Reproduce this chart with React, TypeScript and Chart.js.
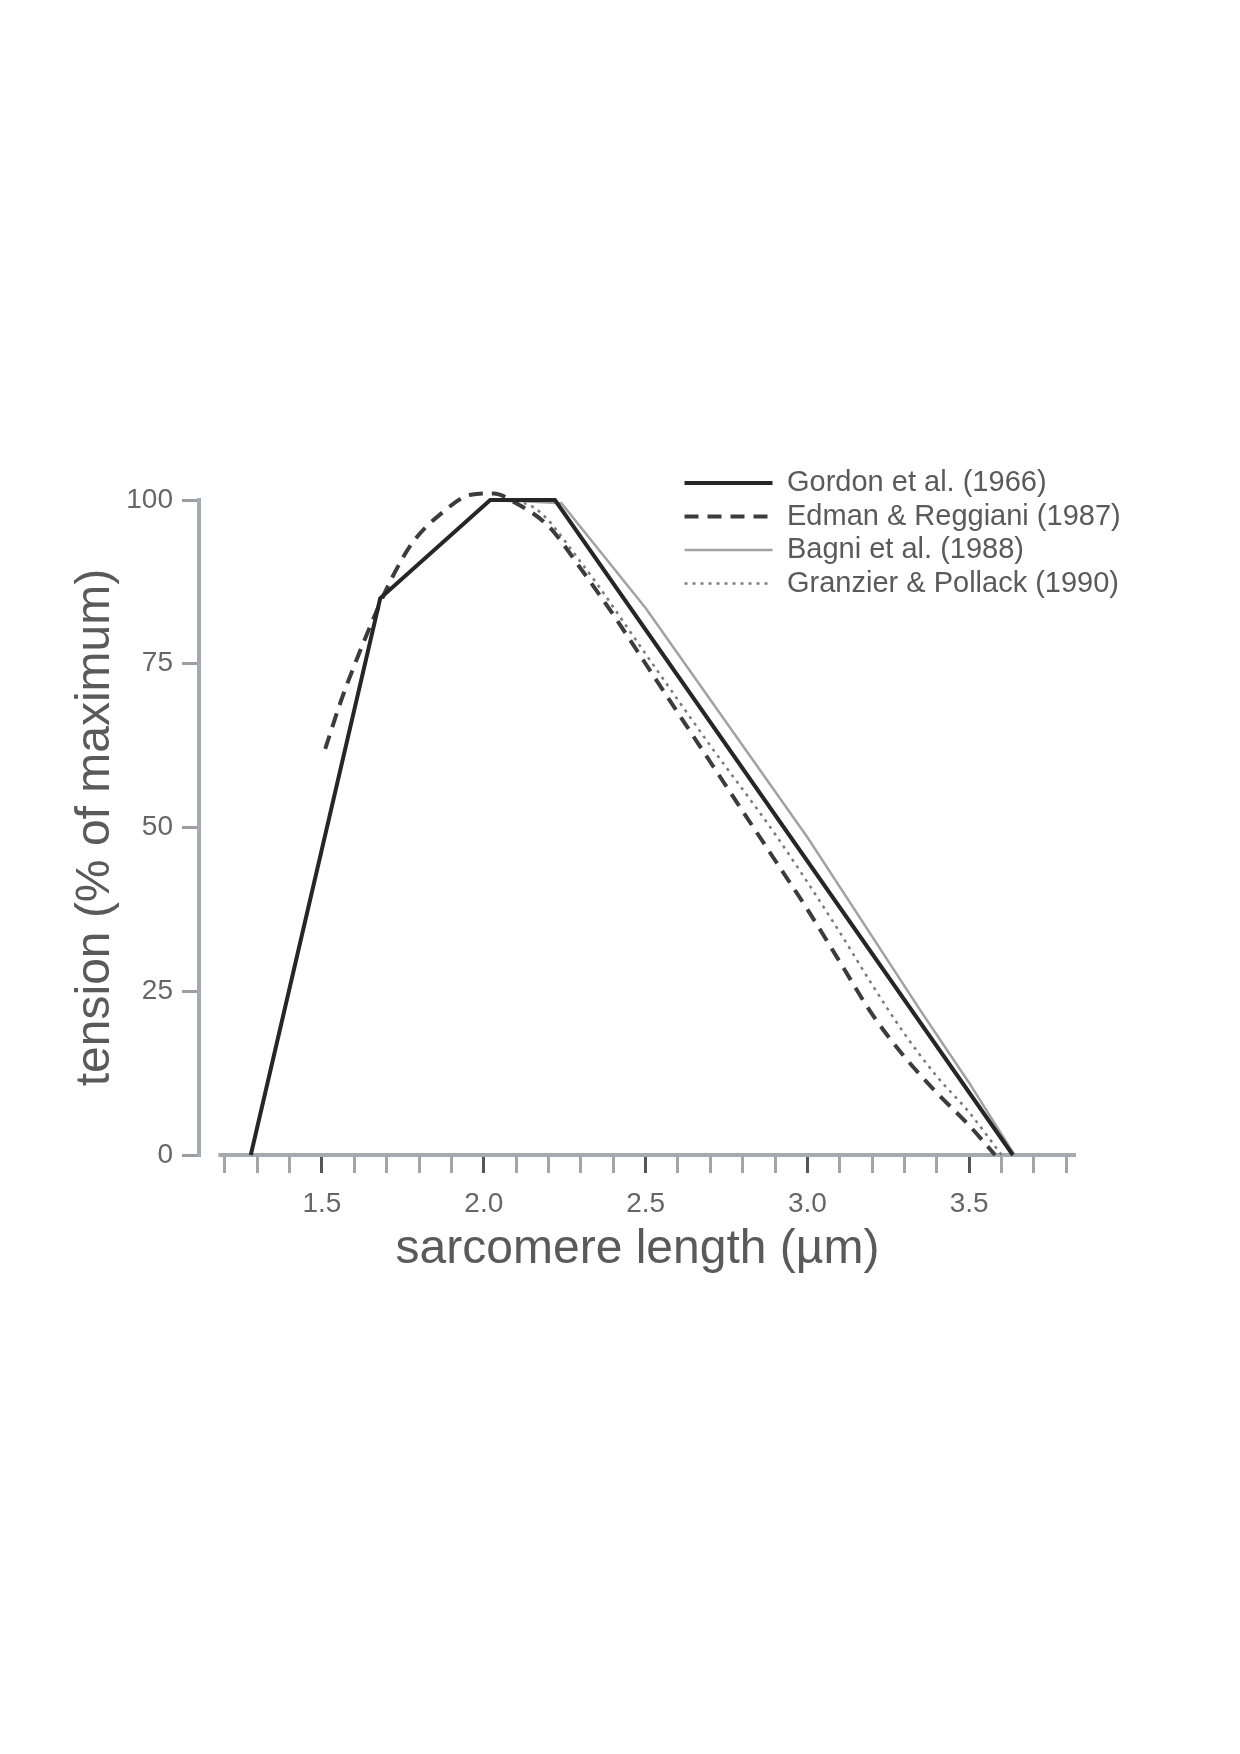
import React, { useEffect, useRef } from 'react';
import { Chart, registerables } from 'chart.js';

Chart.register(...registerables);

const FONT = '"Liberation Sans", Arial, Helvetica, sans-serif';

// ---- data ----
const SERIES_LABELS = [
  'Gordon et al. (1966)',
  'Edman & Reggiani (1987)',
  'Bagni et al. (1988)',
  'Granzier & Pollack (1990)',
];

const GORDON_X = [1.28, 1.68, 2.02, 2.22, 3.635];
const GORDON_Y = [0, 85, 100, 100, 0];

const EDMAN_X = [1.51, 1.56, 1.61, 1.66, 1.71, 1.78, 1.87, 1.96, 2.03, 2.1, 2.2, 2.3, 2.4, 2.5, 2.6, 2.7, 2.8, 2.9, 3.0, 3.1, 3.2, 3.3, 3.4, 3.5, 3.58];
const EDMAN_Y = [62, 69.5, 76, 82, 87.5, 93.5, 98, 100.8, 101, 99.5, 96, 89.5, 82.5, 75, 67.5, 60, 52.5, 45, 37.5, 29.5, 21.5, 15, 9.5, 4.5, 0];

const BAGNI_X = [2.05, 2.24, 2.5, 3.0, 3.35, 3.5, 3.64];
const BAGNI_Y = [100, 99.5, 83.5, 48.5, 22, 11, 0];

const GRANZIER_X = [2.05, 2.15, 2.3, 2.5, 2.7, 2.9, 3.1, 3.2, 3.3, 3.4, 3.5, 3.6];
const GRANZIER_Y = [100, 99, 90.5, 76.5, 62.5, 49, 34, 26, 18.5, 12, 6.5, 0];

const X_TICKS = [1.2, 1.3, 1.4, 1.5, 1.6, 1.7, 1.8, 1.9, 2.0, 2.1, 2.2, 2.3, 2.4, 2.5, 2.6, 2.7, 2.8, 2.9, 3.0, 3.1, 3.2, 3.3, 3.4, 3.5, 3.6, 3.7, 3.8];
const X_TICK_LABELS = ['1.5', '2.0', '2.5', '3.0', '3.5'];
const Y_TICK_STEP = 25;

const X_MIN = 1.12;
const X_MAX = 3.83;
const X_AXIS_START = 1.18;
const Y_MIN = 0;
const Y_MAX = 100;

const AXIS_COLOR = '#a8a8b0';
const TEXT_COLOR = '#5a5a5a';

const pts = (xs: number[], ys: number[]) => xs.map((x, i) => ({ x, y: ys[i] }));

const xAxisLine = {
  id: 'xAxisLine',
  beforeDatasetsDraw(chart: any) {
    const xs = chart.scales.x;
    const ys = chart.scales.y;
    const ctx = chart.ctx;
    const yPix = ys.getPixelForValue(Y_MIN);
    ctx.save();
    ctx.strokeStyle = AXIS_COLOR;
    ctx.lineWidth = 4;
    ctx.beginPath();
    ctx.moveTo(xs.getPixelForValue(X_AXIS_START), yPix);
    ctx.lineTo(xs.getPixelForValue(X_MAX), yPix);
    ctx.stroke();
    ctx.restore();
  },
};

const legendPlacer = {
  id: 'legendPlacer',
  afterLayout(chart: any) {
    const l = chart.legend;
    if (!l) return;
    const w = l.width;
    const h = l.height;
    l.left = 680;
    l.top = 464;
    l.right = l.left + w;
    l.bottom = l.top + h;
  },
};

export default function App() {
  const ref = useRef<HTMLCanvasElement | null>(null);

  useEffect(() => {
    if (!ref.current) return;
    Chart.defaults.font.family = FONT;
    const chart = new Chart(ref.current, {
      type: 'line',
      data: {
        datasets: [
          {
            label: SERIES_LABELS[0],
            data: pts(GORDON_X, GORDON_Y),
            borderColor: '#262626',
            borderWidth: 4,
            tension: 0,
            pointRadius: 0,
            clip: false as any,
          },
          {
            label: SERIES_LABELS[1],
            data: pts(EDMAN_X, EDMAN_Y),
            borderColor: '#3c3c3c',
            borderWidth: 4,
            borderDash: [14, 9],
            cubicInterpolationMode: 'monotone',
            pointRadius: 0,
            clip: false as any,
          },
          {
            label: SERIES_LABELS[2],
            data: pts(BAGNI_X, BAGNI_Y),
            borderColor: '#a2a2a2',
            borderWidth: 2.5,
            tension: 0,
            pointRadius: 0,
            clip: false as any,
          },
          {
            label: SERIES_LABELS[3],
            data: pts(GRANZIER_X, GRANZIER_Y),
            borderColor: '#7a7a7a',
            borderWidth: 2.5,
            borderDash: [3, 5],
            cubicInterpolationMode: 'monotone',
            pointRadius: 0,
            clip: false as any,
          },
        ],
      },
      options: {
        animation: false,
        responsive: false,
        devicePixelRatio: 1,
        layout: { padding: { left: 60, top: 500, right: 164, bottom: 469 } },
        plugins: {
          tooltip: { enabled: false },
          legend: {
            position: 'chartArea' as any,
            align: 'start',
            labels: {
              usePointStyle: true,
              pointStyleWidth: 88,
              padding: 4.5,
              color: TEXT_COLOR,
              font: { size: 29, family: FONT },
              generateLabels: (c: any) =>
                c.data.datasets.map((ds: any, i: number) => ({
                  text: ds.label,
                  strokeStyle: ds.borderColor,
                  fillStyle: ds.borderColor,
                  lineWidth: ds.borderWidth,
                  lineDash: ds.borderDash || [],
                  lineCap: 'butt',
                  pointStyle: 'line',
                  hidden: false,
                  fontColor: TEXT_COLOR,
                  datasetIndex: i,
                })),
            },
          },
        },
        scales: {
          x: {
            type: 'linear',
            min: X_MIN,
            max: X_MAX,
            afterBuildTicks: (scale: any) => {
              scale.ticks = X_TICKS.map((v) => ({ value: v }));
            },
            afterFit: (scale: any) => {
              scale.height = 130;
            },
            border: { display: false },
            grid: {
              display: true,
              drawOnChartArea: false,
              drawTicks: true,
              tickLength: 18,
              tickWidth: 3,
              lineWidth: 3,
              tickColor: (ctx: any) => {
                const v = ctx.tick ? Number(ctx.tick.value).toFixed(1) : '';
                return X_TICK_LABELS.includes(v) ? '#555558' : '#a4a4aa';
              },
            },
            ticks: {
              autoSkip: false,
              maxRotation: 0,
              padding: 14,
              color: '#666',
              font: { size: 28, family: FONT },
              callback: (value: any) => {
                const s = Number(value).toFixed(1);
                return X_TICK_LABELS.includes(s) ? s : '';
              },
            },
            title: {
              display: true,
              text: 'sarcomere length (µm)',
              color: TEXT_COLOR,
              font: { size: 48, family: FONT },
              padding: { top: 0, bottom: 6 },
            },
          },
          y: {
            type: 'linear',
            min: Y_MIN,
            max: Y_MAX,
            afterFit: (scale: any) => {
              scale.width = 139;
            },
            border: { display: true, color: AXIS_COLOR, width: 4 },
            grid: {
              display: true,
              drawOnChartArea: false,
              drawTicks: true,
              tickLength: 17,
              tickWidth: 3,
              lineWidth: 3,
              tickColor: '#9c9ca4',
            },
            ticks: {
              stepSize: Y_TICK_STEP,
              padding: 9,
              color: '#666',
              font: { size: 28, family: FONT },
            },
            title: {
              display: true,
              text: 'tension (% of maximum)',
              color: TEXT_COLOR,
              font: { size: 48, family: FONT },
              padding: { top: 7, bottom: 0 },
            },
          },
        },
      } as any,
      plugins: [xAxisLine, legendPlacer],
    });
    return () => chart.destroy();
  }, []);

  return (
    <div style={{ position: 'absolute', left: 0, top: 0, width: 1240, height: 1754, background: '#fff' }}>
      <canvas ref={ref} width={1240} height={1754} style={{ display: 'block', width: 1240, height: 1754 }} />
    </div>
  );
}
